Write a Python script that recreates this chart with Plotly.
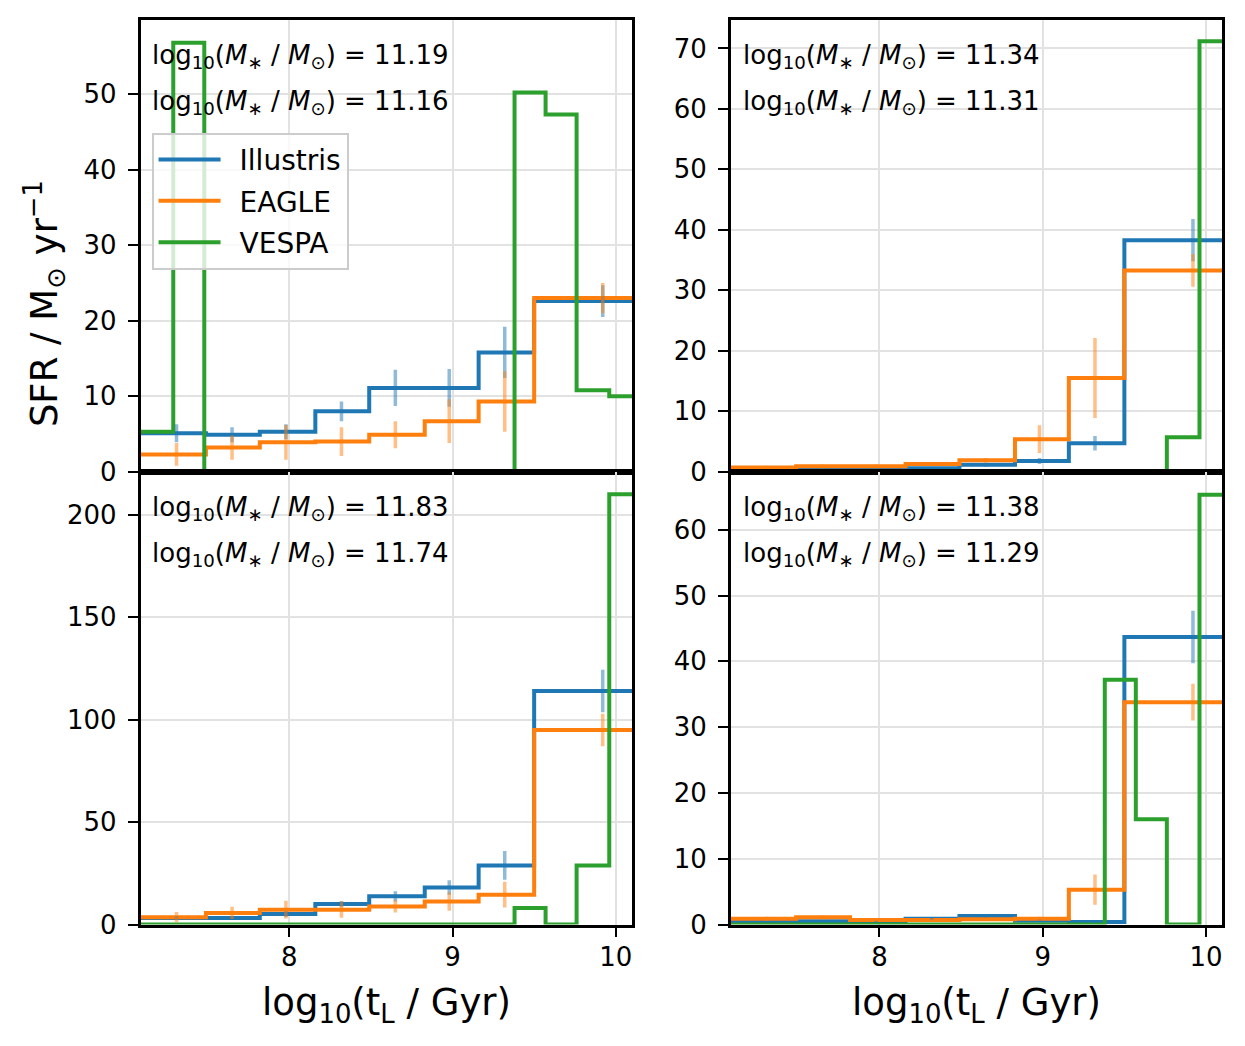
import plotly.graph_objects as go

# bin edges / centres in log10(t_L)
sim_edges = [7.0, 7.49, 7.82, 8.16, 8.49, 8.83, 9.16, 9.50, 10.2]
sim_centres = [7.31, 7.65, 7.98, 8.32, 8.65, 8.98, 9.32, 9.92]
vespa_edges = [7.0, 7.29, 7.48, 7.67, 7.86, 8.05, 8.24, 8.43, 8.62, 8.81,
               9.00, 9.19, 9.38, 9.57, 9.76, 9.96, 10.2]

# SFR values per panel (top-left, top-right, bottom-left, bottom-right)
illustris_sfr = [
    [5.1, 4.9, 5.3, 8.0, 11.1, 11.1, 15.8, 22.6],
    [0.27, 0.38, 0.38, 0.6, 1.15, 1.8, 4.7, 38.3],
    [3.2, 3.2, 5.2, 10.0, 13.8, 18.1, 28.9, 114.0],
    [0.4, 0.5, 0.5, 0.9, 1.3, 0.6, 0.4, 43.7],
]
illustris_err = [
    [1.2, 1.0, 1.0, 1.3, 2.4, 2.5, 3.4, 2.1],
    [0.1, 0.1, 0.1, 0.2, 0.3, 0.5, 1.2, 3.5],
    [1.0, 1.0, 1.5, 1.5, 2.5, 3.5, 7.0, 10.4],
    [0.1, 0.1, 0.1, 0.2, 0.2, 0.2, 0.1, 4.0],
]
eagle_sfr = [
    [2.3, 3.2, 3.9, 4.0, 4.9, 6.7, 9.3, 23.0],
    [0.7, 0.9, 0.9, 1.3, 1.9, 5.4, 15.5, 33.3],
    [3.6, 5.7, 7.3, 7.3, 8.9, 11.3, 14.6, 95.0],
    [0.9, 1.1, 0.7, 0.7, 0.8, 0.9, 5.3, 33.8],
]
eagle_err = [
    [1.5, 1.6, 2.3, 1.9, 1.8, 2.9, 4.0, 2.0],
    [0.3, 0.3, 0.3, 0.3, 0.4, 2.3, 6.6, 2.7],
    [2.5, 3.0, 4.3, 4.0, 3.0, 4.5, 6.3, 7.9],
    [0.3, 0.3, 0.2, 0.2, 0.2, 0.3, 2.3, 2.8],
]
vespa_sfr = [
    [5.3, 56.8, 0, 0, 0, 0, 0, 0, 0, 0, 0, 0, 50.2, 47.3, 10.8, 10.0],
    [0, 0, 0, 0, 0, 0, 0, 0, 0, 0, 0, 0, 0, 0, 5.7, 71.2],
    [0, 0, 0, 0, 0, 0, 0, 0, 0, 0, 0, 0, 8.1, 0, 28.8, 210.0],
    [0, 0, 0, 0, 0, 0, 0, 0, 0, 0, 0, 0, 37.2, 16.0, 0, 65.3],
]
mass_line1 = ["11.19", "11.34", "11.83", "11.38"]
mass_line2 = ["11.16", "11.31", "11.74", "11.29"]

y_ranges = [[0, 59.8], [0, 74.7], [0, 221], [0, 68.8]]
y_ticks = [[0, 10, 20, 30, 40, 50], [0, 10, 20, 30, 40, 50, 60, 70],
           [0, 50, 100, 150, 200], [0, 10, 20, 30, 40, 50, 60]]

BLUE, ORANGE, GREEN = "#1f77b4", "#ff7f0e", "#2ca02c"
FONT = "DejaVu Sans"
# the page adds a body margin, so the figure is smaller than the window;
# screen position ~ 6 + scale * figure position (measured)
W, H = 1229, 1030
SX, SY = 1.003, 0.988


def px(x):
    return (x - 6) / SX / W


def py(y):
    return 1 - (y - 6) / SY / H


x_doms = [[px(139), px(632)], [px(731), px(1224)]] * 2
y_doms = [[py(471), py(18)]] * 2 + [[py(925), py(471)]] * 2

fig = go.Figure()

for i in range(4):
    xa = "x" if i == 0 else "x%d" % (i + 1)
    ya = "y" if i == 0 else "y%d" % (i + 1)
    for name, vals, col in [("Illustris", illustris_sfr[i], BLUE),
                            ("EAGLE", eagle_sfr[i], ORANGE)]:
        fig.add_trace(go.Scatter(x=sim_edges, y=vals + [vals[-1]], mode="lines",
                                 line=dict(color=col, width=4, shape="hv"),
                                 name="\u2002" + name, legendgroup=name,
                                 showlegend=(i == 0), xaxis=xa, yaxis=ya))
    fig.add_trace(go.Scatter(x=vespa_edges, y=vespa_sfr[i] + [vespa_sfr[i][-1]], mode="lines",
                             line=dict(color=GREEN, width=4, shape="hv"),
                             name="\u2002VESPA", legendgroup="VESPA",
                             showlegend=(i == 0), xaxis=xa, yaxis=ya))
    for vals, err, col in [(illustris_sfr[i], illustris_err[i], "rgba(31,119,180,0.5)"),
                           (eagle_sfr[i], eagle_err[i], "rgba(255,127,14,0.5)")]:
        fig.add_trace(go.Scatter(x=sim_centres, y=vals, mode="markers",
                                 marker=dict(size=1, color="rgba(0,0,0,0)"),
                                 error_y=dict(type="data", array=err, width=0,
                                              thickness=3.5, color=col),
                                 showlegend=False, hoverinfo="skip",
                                 xaxis=xa, yaxis=ya))

    axis_common = dict(showline=True, mirror=True, linecolor="black", linewidth=2.5,
                       showgrid=True, gridcolor="#e2e2e2", gridwidth=2, zeroline=False,
                       tickfont=dict(family=FONT, size=26, color="black"),
                       ticks="outside", ticklen=10, tickwidth=2, tickcolor="black",
                       ticklabelstandoff=6)
    xkey = "xaxis" if i == 0 else "xaxis%d" % (i + 1)
    ykey = "yaxis" if i == 0 else "yaxis%d" % (i + 1)
    xa_cfg = dict(axis_common, domain=x_doms[i], range=[7.09, 10.1], anchor=ya,
                  tickvals=[8, 9, 10], ticklabelstandoff=-3)
    if i < 2:
        xa_cfg.update(showticklabels=False, ticks="")
    fig.update_layout({xkey: xa_cfg,
                       ykey: dict(axis_common, domain=y_doms[i], range=y_ranges[i],
                                  anchor=xa, tickvals=y_ticks[i])})

    for txt, yy in [(mass_line1[i], 1 - 37 / 453), (mass_line2[i], 1 - 83 / 453)]:
        fig.add_annotation(xref=xa + " domain", yref=ya + " domain", x=0.02, y=yy,
                           xanchor="left", yanchor="middle", showarrow=False,
                           text="log<sub>10</sub>(<i>M</i><sub>∗</sub> / <i>M</i><sub>⊙</sub>) = " + txt,
                           font=dict(family=FONT, size=26, color="black"))

# axis titles
for xc in [(139 + 632) / 2, (731 + 1224) / 2]:
    fig.add_annotation(xref="paper", yref="paper", x=px(xc), y=py(1006),
                       xanchor="center", yanchor="middle", showarrow=False,
                       text="log<sub>10</sub>(t<sub>L</sub> / Gyr)",
                       font=dict(family=FONT, size=37, color="black"))
fig.add_annotation(xref="paper", yref="paper", x=px(42), y=py(302),
                   xanchor="center", yanchor="middle", showarrow=False, textangle=-90,
                   text="SFR / M<sub>⊙</sub> yr<sup>−1</sup>",
                   font=dict(family=FONT, size=37, color="black"))

fig.update_layout(
    width=W, height=H,
    margin=dict(l=0, r=0, t=0, b=0),
    paper_bgcolor="white", plot_bgcolor="white",
    legend=dict(x=px(150), y=py(131), xanchor="left", yanchor="top",
                bgcolor="rgba(255,255,255,0.8)", bordercolor="#cccccc", borderwidth=2,
                font=dict(family=FONT, size=28, color="black"), tracegroupgap=2,
                itemwidth=62),
)

fig.write_html("out.html")
